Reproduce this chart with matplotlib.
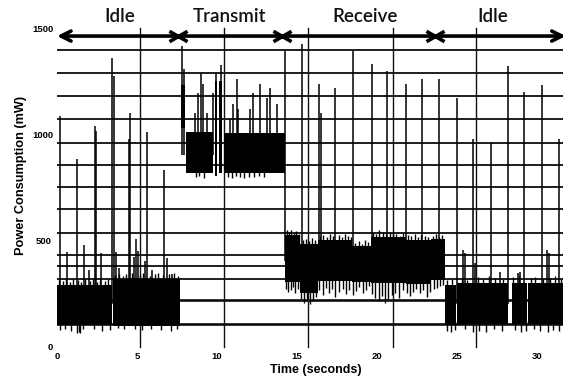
import matplotlib
matplotlib.use("Agg")
import matplotlib.pyplot as plt
from matplotlib.path import Path

# time in seconds, power in mW
phase_names = ["Idle", "Transmit", "Receive", "Idle"]
phase_name_t = [3.9, 10.8, 19.25, 27.25]
phase_marks_t = [7.56, 14.06, 23.6]

x_ticks = [0, 5, 10, 15, 20, 25, 30]
y_ticks = [500, 1000, 1500]

grid_t = [5.19, 10.44, 15.69, 21.0, 26.19]
grid_mw = [1396, 1288, 1180, 1072, 959, 856, 748, 644, 531, 428, 376, 315, 216, 103]
heavy_grid_mw = [216, 103]

# dense part of the trace as blocks: start, end, low, high
block_start = [0.0, 3.52, 7.72, 8.06, 9.88, 10.15, 10.42,
               14.25, 15.2, 16.3, 18.45, 19.6, 21.8, 23.4,
               24.25, 25.02, 28.45, 29.45]
block_end = [3.44, 7.7, 8.02, 9.75, 9.98, 10.3, 14.22,
             15.2, 16.3, 18.45, 19.6, 21.8, 23.4, 24.22,
             24.95, 28.2, 29.35, 31.7]
block_lo = [99, 96, 1030, 818, 804, 818, 818,
            300, 250, 305, 300, 295, 292, 312,
            99, 105, 105, 105]
block_hi = [287, 318, 1230, 1010, 1250, 1250, 1006,
            525, 480, 500, 470, 515, 500, 505,
            290, 296, 296, 296]

# ragged edges of the blocks: time, from, to
idle1_edge_t = [0.1, 0.35, 0.55, 0.8, 1.0, 1.3, 1.5, 1.75, 2.05, 2.25, 2.5, 2.7, 3.0, 3.2,
                3.6, 3.9, 4.1, 4.3, 4.7, 5.2, 5.4, 5.8, 6.1, 6.3, 6.6, 7.0, 7.3, 7.55,
                0.2, 0.5, 0.9, 1.25, 1.35, 1.45, 1.6, 2.3, 2.8, 3.3, 3.8, 4.2, 4.9, 5.3,
                5.9, 6.5, 7.1, 7.5]
idle1_edge_from = [280] * 14 + [310] * 14 + [110] * 18
idle1_edge_to = [312, 305, 318, 300, 314, 310, 302, 316, 308, 315, 300, 312, 306, 314,
                 335, 340, 330, 338, 342, 336, 344, 332, 340, 345, 334, 338, 342, 330,
                 75, 82, 70, 61, 64, 62, 78, 80, 72, 76, 84, 78, 80, 74, 82, 76, 70, 80]
tx_edge_t = [8.7, 8.9, 9.2, 10.7, 10.95, 11.2, 11.45, 11.7, 12.0, 12.3, 12.6, 12.95]
tx_edge_to = [795, 800, 792, 798, 794, 800, 796, 792, 798, 795, 800, 796]
rx_top_t = [14.35, 14.5, 14.65, 14.8, 14.95, 15.1, 15.35, 15.55, 15.75, 15.95, 16.15,
            16.45, 16.65, 16.85, 17.05, 17.25, 17.6, 17.8, 18.0, 18.2, 18.4, 18.65, 18.85,
            19.05, 19.25, 19.45, 19.75, 19.95, 20.15, 20.35, 20.55, 20.8, 21.0, 21.2,
            21.45, 21.65, 21.95, 22.15, 22.35, 22.55, 22.75, 23.0, 23.2, 23.5, 23.7,
            23.85, 24.05]
rx_top_mw = [545, 540, 548, 535, 542, 530, 500, 505, 495, 510, 498, 520, 525, 512, 530,
             518, 522, 515, 528, 520, 512, 488, 495, 482, 500, 490, 535, 528, 545, 538,
             530, 540, 532, 528, 520, 535, 522, 518, 530, 515, 524, 520, 512, 520, 528,
             516, 522]
rx_bot_t = [14.3, 14.45, 14.6, 14.75, 14.9, 15.05, 15.25, 15.45, 15.6, 15.8, 16.0, 16.2,
            16.4, 16.6, 16.8, 17.0, 17.2, 17.4, 17.65, 17.85, 18.05, 18.25, 18.5, 18.7,
            18.9, 19.1, 19.3, 19.5, 19.7, 19.9, 20.1, 20.3, 20.5, 20.7, 20.95, 21.15,
            21.35, 21.6, 21.85, 22.05, 22.25, 22.45, 22.7, 22.9, 23.1, 23.3, 23.55,
            23.75, 23.95, 24.15]
rx_bot_mw = [270, 255, 262, 280, 250, 268, 222, 205, 215, 196, 210, 230, 262, 240,
             275, 250, 268, 232, 255, 270, 245, 262, 240, 258, 278, 250, 266, 282,
             244, 228, 212, 236, 205, 222, 240, 250, 228, 262, 250, 238, 256, 270,
             248, 262, 230, 255, 268, 275, 285, 290]
idle2_edge_t = [24.4, 24.7, 25.3, 25.6, 26.3, 26.6, 27.0, 27.4, 27.9, 28.5, 28.9, 29.6,
                29.9, 30.4, 30.8, 31.1, 31.5,
                24.35, 24.6, 24.85, 25.5, 26.0, 26.4, 26.8, 27.3, 27.8, 28.6, 29.0, 29.3,
                29.8, 30.2, 30.7, 31.0, 31.4]
idle2_edge_from = [280] * 17 + [120] * 17
idle2_edge_to = [312, 318, 322, 310, 326, 318, 328, 320, 316, 324, 330, 320, 326, 318,
                 322, 328, 316,
                 70, 66, 74, 80, 66, 72, 68, 78, 70, 74, 66, 72, 78, 70, 68, 76, 72]

# spikes per phase: time and peak
idle1_spike_t = [0.19, 0.6, 1.25, 1.7, 2.0, 2.37, 2.45, 2.75, 3.44, 3.55, 3.7, 3.85,
                 4.5, 4.56, 4.8, 4.95, 5.05, 5.5, 5.63, 5.95, 6.69, 6.9, 7.2]
idle1_spike_top = [1086, 445, 884, 475, 360, 1039, 1015, 440, 1359, 1274, 445, 370,
                   978, 1100, 420, 505, 450, 400, 1011, 360, 832, 415, 340]
tx_spike_t = [7.8, 7.95, 8.63, 8.8, 8.98, 9.13, 9.4, 9.75, 9.94, 10.25, 10.8, 11.0,
              11.25, 11.33, 12.06, 12.27, 12.7, 13.1, 13.3, 13.73]
tx_spike_top = [1415, 1307, 1100, 1194, 1288, 1236, 1100, 1194, 1288, 1326, 1072, 1142,
                1260, 1119, 1119, 1194, 1236, 1171, 1218, 1142]
rx_spike_t = [14.25, 15.3, 16.4, 16.48, 17.4, 18.5, 19.7, 20.6, 21.8, 22.8, 23.9]
rx_spike_top = [1392, 1425, 1236, 1100, 1218, 1392, 1330, 1298, 1236, 1260, 1260]
idle2_spike_t = [25.0, 25.4, 25.5, 26.0, 26.1, 27.1, 27.7, 28.2, 28.8, 28.95, 29.2,
                 30.3, 30.6, 30.75, 31.35]
idle2_spike_top = [1171, 451, 437, 978, 390, 959, 348, 1321, 343, 348, 1199,
                   1232, 451, 437, 978]

fig = plt.figure(figsize=(5.63, 3.78), dpi=100)
ax = fig.add_axes([57 / 563, 32 / 378, 506 / 563, 318 / 378])
ax.set_xlim(0, 31.625)
ax.set_ylim(0, 1500)
for s in ax.spines.values():
    s.set_visible(False)

# grid, drawn the way the original sheet has it
for g in grid_mw:
    ax.axhline(g, color="#0d0d0d", lw=1.9 if g in heavy_grid_mw else 1.3, zorder=1)
for g in grid_t:
    ax.axvline(g, ymin=-0.004, ymax=1.0, color="#111111", lw=1.0, zorder=1, clip_on=False)

# trace
for t0, t1, lo, hi in zip(block_start, block_end, block_lo, block_hi):
    ax.fill_between([t0, t1], [lo, lo], [hi, hi], color="black", lw=0, zorder=3)
ax.vlines(idle1_edge_t, idle1_edge_from, idle1_edge_to, color="black", lw=1.0, zorder=3)
ax.vlines(tx_edge_t, 830, tx_edge_to, color="black", lw=1.0, zorder=3)
ax.vlines(rx_top_t, 450, rx_top_mw, color="black", lw=1.0, zorder=3)
ax.vlines(rx_bot_t, 350, rx_bot_mw, color="black", lw=1.0, zorder=3)
ax.vlines(idle2_edge_t, idle2_edge_from, idle2_edge_to, color="black", lw=1.0, zorder=3)
for st, sp, base in [(idle1_spike_t, idle1_spike_top, 200), (tx_spike_t, tx_spike_top, 900),
                     (rx_spike_t, rx_spike_top, 400), (idle2_spike_t, idle2_spike_top, 200)]:
    ax.vlines(st, base, sp, color="black", lw=1.1, zorder=3)

# phase arrow on top
arrow_mw = 1462
ax.annotate("", xy=(0, arrow_mw), xytext=(31.8, arrow_mw),
            arrowprops=dict(arrowstyle="<->", lw=2.6, color="black",
                            mutation_scale=18, shrinkA=0, shrinkB=0),
            annotation_clip=False, zorder=5)
bowtie = Path([(-1.4, 0.8), (1.4, -0.8), (-1.4, -0.8), (1.4, 0.8)],
              [Path.MOVETO, Path.LINETO, Path.MOVETO, Path.LINETO])
ax.plot(phase_marks_t, [arrow_mw] * len(phase_marks_t), ls="none", marker=bowtie,
        ms=13, mew=2.6, color="black", zorder=6, clip_on=False)
for name, t in zip(phase_names, phase_name_t):
    ax.text(t, 1552, name, ha="center", va="center", fontsize=13.5, fontweight="semibold",
            family="Lato", color="#111111", clip_on=False)

# ticks and labels
ax.set_xticks(x_ticks)
ax.set_xticklabels([str(v) for v in x_ticks])
ax.set_yticks(y_ticks)
ax.set_yticklabels([str(v) for v in y_ticks])
ax.tick_params(length=0, labelsize=6.8)
ax.tick_params(axis="x", pad=4.5)
ax.tick_params(axis="y", pad=10)
for lab in ax.get_yticklabels():
    lab.set_horizontalalignment("center")
for lab in ax.get_xticklabels() + ax.get_yticklabels():
    lab.set_fontweight("bold")
    lab.set_family("Liberation Sans")
ax.text(-0.44, -5, "0", ha="center", va="center", fontsize=6.8,
        fontweight="bold", family="Liberation Sans", clip_on=False)

ax.set_xlabel("Time (seconds)", fontsize=9, fontweight="bold", family="Liberation Sans", va="center")
ax.xaxis.set_label_coords((316 - 57) / 506, (346 - 370) / 318)
ax.set_ylabel("Power Consumption (mW)", fontsize=9.2, fontweight="bold",
              family="Liberation Sans", va="center", ha="center")
ax.yaxis.set_label_coords((21 - 57) / 506, (346 - 175) / 318)

fig.savefig("out.png", dpi=100)
